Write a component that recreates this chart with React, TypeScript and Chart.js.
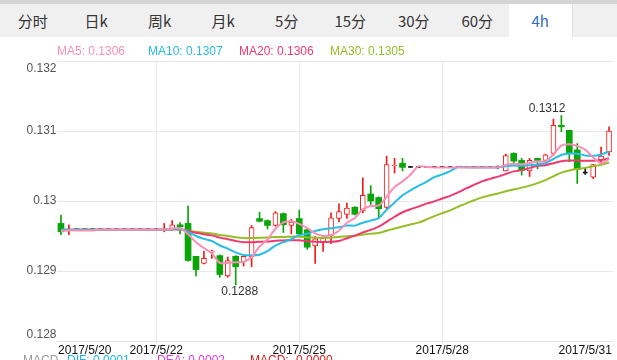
import { useEffect, useRef } from 'react';
import { Chart, registerables } from 'chart.js';

Chart.register(...registerables);

// ---- candle data (4h) ----
const opens = [
  0.12968, 0.12958, 0.12959, 0.12959, 0.12959, 0.12959, 0.12959, 0.12959, 0.12959, 0.12959,
  0.12959, 0.12959, 0.12959, 0.12958, 0.12961, 0.12966, 0.12968, 0.12921, 0.12911, 0.12927,
  0.12922, 0.12893, 0.12921, 0.12913, 0.12920, 0.12975, 0.12972, 0.12965, 0.12982, 0.12965,
  0.12975, 0.12959, 0.12936, 0.12941, 0.12951, 0.12975, 0.12981, 0.12991, 0.12986, 0.13010,
  0.13005, 0.12991, 0.13050, 0.13054, 0.13048, 0.13048, 0.13048, 0.13048, 0.13048, 0.13048,
  0.13048, 0.13048, 0.13048, 0.13048, 0.13048, 0.13048, 0.13043, 0.13068, 0.13058, 0.13043,
  0.13061, 0.13058, 0.13068, 0.13108, 0.13101, 0.13073, 0.13040, 0.13034, 0.13059, 0.13070,
];
const highs = [
  0.12980, 0.12966, 0.12959, 0.12959, 0.12959, 0.12959, 0.12959, 0.12959, 0.12959, 0.12959,
  0.12959, 0.12959, 0.12959, 0.12968, 0.12972, 0.12969, 0.12993, 0.12921, 0.12928, 0.12930,
  0.12923, 0.12920, 0.12922, 0.12922, 0.12965, 0.12984, 0.12973, 0.12985, 0.12983, 0.12974,
  0.12987, 0.12961, 0.12949, 0.12949, 0.12983, 0.12996, 0.12997, 0.12992, 0.13033, 0.13022,
  0.13006, 0.13064, 0.13061, 0.13061, 0.13048, 0.13048, 0.13048, 0.13048, 0.13048, 0.13048,
  0.13048, 0.13048, 0.13048, 0.13048, 0.13048, 0.13050, 0.13067, 0.13069, 0.13061, 0.13061,
  0.13061, 0.13067, 0.13117, 0.13122, 0.13101, 0.13082, 0.13047, 0.13052, 0.13077, 0.13106,
];
const lows = [
  0.12952, 0.12952, 0.12959, 0.12959, 0.12959, 0.12959, 0.12959, 0.12959, 0.12959, 0.12959,
  0.12959, 0.12959, 0.12959, 0.12956, 0.12961, 0.12953, 0.12914, 0.12893, 0.12910, 0.12918,
  0.12891, 0.12891, 0.12880, 0.12907, 0.12906, 0.12970, 0.12960, 0.12964, 0.12955, 0.12953,
  0.12950, 0.12931, 0.12911, 0.12928, 0.12939, 0.12970, 0.12975, 0.12980, 0.12983, 0.12995,
  0.12976, 0.12989, 0.13040, 0.13043, 0.13048, 0.13048, 0.13048, 0.13048, 0.13048, 0.13048,
  0.13048, 0.13048, 0.13048, 0.13048, 0.13048, 0.13046, 0.13043, 0.13053, 0.13037, 0.13035,
  0.13046, 0.13053, 0.13065, 0.13099, 0.13056, 0.13025, 0.13038, 0.13032, 0.13053, 0.13065,
];
const closes = [
  0.12956, 0.12959, 0.12959, 0.12959, 0.12959, 0.12959, 0.12959, 0.12959, 0.12959, 0.12959,
  0.12959, 0.12959, 0.12959, 0.12959, 0.12966, 0.12963, 0.12915, 0.12902, 0.12918, 0.12928,
  0.12895, 0.12915, 0.12906, 0.12921, 0.12962, 0.12971, 0.12965, 0.12983, 0.12966, 0.12970,
  0.12953, 0.12934, 0.12946, 0.12947, 0.12976, 0.12985, 0.12990, 0.12981, 0.13008, 0.13000,
  0.12989, 0.13052, 0.13051, 0.13048, 0.13048, 0.13048, 0.13048, 0.13048, 0.13048, 0.13048,
  0.13048, 0.13048, 0.13048, 0.13048, 0.13048, 0.13048, 0.13065, 0.13057, 0.13044, 0.13058,
  0.13058, 0.13066, 0.13108, 0.13106, 0.13068, 0.13045, 0.13040, 0.13052, 0.13064, 0.13100,
];

// ---- moving averages ----
const ma5 = [
  0.12957, 0.12958, 0.12958, 0.12958, 0.12958, 0.12959, 0.12959, 0.12959, 0.12959, 0.12959,
  0.12959, 0.12959, 0.12959, 0.12959, 0.129604, 0.129612, 0.129524, 0.12941, 0.129328, 0.129252,
  0.129116, 0.129116, 0.129124, 0.12913, 0.129198, 0.12935, 0.12945, 0.129604, 0.129694, 0.12971,
  0.129674, 0.129612, 0.129538, 0.1295, 0.129512, 0.129576, 0.129688, 0.129758, 0.12988, 0.129928,
  0.129936, 0.13006, 0.1302, 0.13028, 0.130376, 0.130494, 0.130486, 0.13048, 0.13048, 0.13048,
  0.13048, 0.13048, 0.13048, 0.13048, 0.13048, 0.13048, 0.130514, 0.130532, 0.130524, 0.130544,
  0.130564, 0.130566, 0.130668, 0.130792, 0.130812, 0.130786, 0.130734, 0.130622, 0.130538, 0.130602,
];
const ma10 = [
  0.12959, 0.12959, 0.12959, 0.12959, 0.12959, 0.12959, 0.12959, 0.12959, 0.12959, 0.12959,
  0.12959, 0.12959, 0.12959, 0.12959, 0.129597, 0.129601, 0.129557, 0.1295, 0.129459, 0.129428,
  0.129364, 0.12932, 0.129267, 0.129229, 0.129225, 0.129233, 0.129283, 0.129364, 0.129412, 0.129454,
  0.129512, 0.129531, 0.129571, 0.129597, 0.129611, 0.129625, 0.12965, 0.129648, 0.12969, 0.12972,
  0.129756, 0.129874, 0.129979, 0.13008, 0.130152, 0.130215, 0.130273, 0.13034, 0.13038, 0.130428,
  0.130487, 0.130483, 0.13048, 0.13048, 0.13048, 0.13048, 0.130497, 0.130506, 0.130502, 0.130512,
  0.130522, 0.13054, 0.1306, 0.130658, 0.130678, 0.130675, 0.13065, 0.130645, 0.130665, 0.130707,
];
const ma20 = [
  0.12959, 0.12959, 0.12959, 0.12959, 0.12959, 0.12959, 0.12959, 0.12959, 0.12959, 0.12959,
  0.12959, 0.12959, 0.12959, 0.12959, 0.129594, 0.129596, 0.129574, 0.129545, 0.129525, 0.129509,
  0.129477, 0.129455, 0.129429, 0.12941, 0.129411, 0.129417, 0.12942, 0.129432, 0.129436, 0.129441,
  0.129438, 0.129426, 0.129419, 0.129413, 0.129418, 0.129429, 0.129467, 0.129506, 0.129551, 0.129587,
  0.129634, 0.129703, 0.129775, 0.129839, 0.129882, 0.12992, 0.129962, 0.129994, 0.130035, 0.130074,
  0.130122, 0.130179, 0.13023, 0.13028, 0.130316, 0.130348, 0.130385, 0.130423, 0.130441, 0.13047,
  0.130505, 0.130512, 0.13054, 0.130569, 0.130579, 0.130578, 0.130574, 0.130576, 0.130584, 0.13061,
];
const ma30 = [
  0.12959, 0.12959, 0.12959, 0.12959, 0.12959, 0.12959, 0.12959, 0.12959, 0.12959, 0.12959,
  0.12959, 0.12959, 0.12959, 0.12959, 0.129592, 0.129594, 0.129579, 0.12956, 0.129546, 0.129536,
  0.129515, 0.1295, 0.129482, 0.12947, 0.129471, 0.129475, 0.129477, 0.129485, 0.129487, 0.129491,
  0.129489, 0.12948, 0.129476, 0.129472, 0.129478, 0.129486, 0.129497, 0.129504, 0.12952, 0.129534,
  0.129544, 0.129575, 0.129606, 0.129635, 0.129663, 0.129691, 0.129735, 0.129784, 0.129827, 0.129867,
  0.129918, 0.129963, 0.13001, 0.130052, 0.130081, 0.130107, 0.13014, 0.130165, 0.130191, 0.13022,
  0.130255, 0.130299, 0.130353, 0.130406, 0.130437, 0.130457, 0.130473, 0.130497, 0.130516, 0.130549,
];

const maNames = ['MA5', 'MA10', 'MA20', 'MA30'];
const maColors = ['#f98fb6', '#27bde6', '#ee3a6e', '#96bd26'];

// ---- axes ----
const yMin = 0.128;
const yMax = 0.132;
const yStep = 0.001;
const xTickLabels = ['2017/5/20', '2017/5/22', '2017/5/25', '2017/5/28', '2017/5/31'];
const xTickAt = [3, 12, 30, 48, 66];
const xGridAt = [12, 30, 48];

// ---- tabs & MACD header ----
const tabs = ['分时', '日k', '周k', '月k', '5分', '15分', '30分', '60分', '4h'];
const activeTab = '4h';
const macdDif = 0.0001;
const macdDea = 0.0002;
const macdHist = -0.00001;

const RED = '#f01c1c';
const GREEN = '#0aa50a';
const FLAT = '#111111';
const FONT = '"Liberation Sans", Arial, sans-serif';

const categories = closes.map((_, i) => {
  const k = xTickAt.indexOf(i);
  return k >= 0 ? xTickLabels[k] : '';
});

const textPlugin = {
  id: 'textPlugin',
  afterDraw(chart: any) {
    const { ctx, chartArea, scales } = chart;
    const xs = scales.x;
    const ys = scales.y;
    ctx.save();
    ctx.font = `12px ${FONT}`;

    // legend
    const mas = [ma5, ma10, ma20, ma30];
    ctx.textAlign = 'left';
    ctx.textBaseline = 'middle';
    mas.forEach((arr, k) => {
      ctx.fillStyle = maColors[k];
      ctx.fillText(`${maNames[k]}: ${arr[arr.length - 1].toFixed(4)}`, chartArea.left + k * 91, chartArea.top - 9);
    });

    // y labels
    ctx.fillStyle = '#555';
    ctx.textAlign = 'right';
    ys.ticks.forEach((t: any) => {
      const py = ys.getPixelForValue(t.value);
      const y = Math.min(Math.max(py, chartArea.top + 7.5), chartArea.bottom - 6);
      ctx.fillText(String(Number(t.value.toFixed(3))), chartArea.left - 0.5, y);
    });

    // x labels
    ctx.fillStyle = '#111';
    ctx.textAlign = 'center';
    ctx.textBaseline = 'alphabetic';
    xTickAt.forEach((idx, k) => {
      ctx.fillText(xTickLabels[k], xs.getPixelForValue(idx), chartArea.bottom + 13);
    });

    // min / max marks
    let hi = 0;
    let lo = 0;
    highs.forEach((v, i) => { if (v > highs[hi]) hi = i; });
    lows.forEach((v, i) => { if (v < lows[lo]) lo = i; });
    ctx.fillStyle = '#333';
    ctx.textBaseline = 'middle';
    ctx.textAlign = 'right';
    ctx.fillText(highs[hi].toFixed(4), xs.getPixelForValue(hi) + 4, ys.getPixelForValue(highs[hi]) - 7);
    ctx.textAlign = 'center';
    ctx.fillText(lows[lo].toFixed(4), xs.getPixelForValue(lo) + 4, ys.getPixelForValue(lows[lo]) + 7);

    // MACD header (cut by the bottom edge)
    ctx.textAlign = 'left';
    ctx.textBaseline = 'alphabetic';
    const by = chartArea.bottom + 23;
    ctx.fillStyle = '#999';
    ctx.fillText('MACD', 23, by);
    ctx.fillStyle = '#1bb8e8';
    ctx.fillText(`DIF: ${macdDif.toFixed(4)}`, 67, by);
    ctx.fillStyle = '#e03ce0';
    ctx.fillText(`DEA: ${macdDea.toFixed(4)}`, 157, by);
    ctx.fillStyle = '#e01818';
    ctx.fillText(`MACD: ${macdHist.toFixed(4)}`, 250, by);
    ctx.restore();
  },
};

export default function App() {
  const ref = useRef<HTMLCanvasElement>(null);

  useEffect(() => {
    const canvas = ref.current;
    if (!canvas) return;
    const up = closes.map((c, i) => (c > opens[i] ? [opens[i], c] : null));
    const down = closes.map((c, i) => (c < opens[i] ? [opens[i], c] : null));
    const flat = closes.map((c, i) => (c === opens[i] ? [opens[i], c] : null));
    const wicks = closes.map((_, i) => [lows[i], highs[i]]);
    const wickColors = closes.map((c, i) => (c > opens[i] ? RED : c < opens[i] ? GREEN : FLAT));
    const mas = [ma5, ma10, ma20, ma30];

    const chart = new Chart(canvas, {
      type: 'bar',
      data: {
        labels: categories,
        datasets: [
          ...mas.map((arr, k) => ({
            type: 'line' as const,
            label: maNames[k],
            data: arr,
            borderColor: maColors[k],
            borderWidth: 2,
            pointRadius: 0,
            tension: 0.3,
            fill: false,
            order: 0,
          })),
          {
            type: 'bar' as const,
            label: 'up',
            data: up as any,
            backgroundColor: '#ffffff',
            borderColor: RED,
            borderWidth: 1,
            borderSkipped: false,
            barThickness: 5,
            minBarLength: 1,
            grouped: false,
            order: 1,
          },
          {
            type: 'bar' as const,
            label: 'down',
            data: down as any,
            backgroundColor: GREEN,
            borderWidth: 0,
            barThickness: 6,
            minBarLength: 1,
            grouped: false,
            order: 1,
          },
          {
            type: 'bar' as const,
            label: 'flat',
            data: flat as any,
            backgroundColor: FLAT,
            borderWidth: 0,
            barThickness: 4,
            minBarLength: 1,
            grouped: false,
            order: 1,
          },
          {
            type: 'bar' as const,
            label: 'wick',
            data: wicks as any,
            backgroundColor: wickColors,
            borderWidth: 0,
            barThickness: 1,
            grouped: false,
            order: 2,
          },
        ],
      },
      options: {
        responsive: false,
        maintainAspectRatio: false,
        animation: false,
        devicePixelRatio: 1,
        events: [],
        layout: { padding: { left: 57, top: 61, right: 4, bottom: 19 } },
        plugins: { legend: { display: false }, tooltip: { enabled: false } },
        scales: {
          x: {
            type: 'category',
            offset: true,
            ticks: { display: false, autoSkip: false },
            grid: {
              offset: false,
              drawTicks: false,
              color: (ctx: any) => (xGridAt.includes(ctx.tick?.value) ? '#e8e8e8' : 'rgba(0,0,0,0)'),
            },
            border: { display: true, color: '#e3e3e3' },
          },
          y: {
            type: 'linear',
            min: yMin,
            max: yMax,
            ticks: { display: false, stepSize: yStep },
            grid: { drawTicks: false, color: '#e8e8e8' },
            border: { display: false },
          },
        },
      },
      plugins: [textPlugin],
    });
    return () => chart.destroy();
  }, []);

  return (
    <div style={{ position: 'absolute', left: 0, top: 0, width: 617, height: 360, background: '#fff', overflow: 'hidden' }}>
      <canvas ref={ref} width={617} height={360} style={{ position: 'absolute', left: 0, top: 0, width: 617, height: 360 }} />
      <div
        style={{
          position: 'absolute', left: 0, top: 0, width: 617, height: 37, boxSizing: 'border-box',
          background: '#f0f0f0', borderTop: '4px solid #d4d4d4', display: 'flex', paddingLeft: 1,
        }}
      >
        {tabs.map((t) => (
          <div
            key={t}
            style={{
              width: 63.5, height: 33, lineHeight: '33px', textAlign: 'center',
              fontFamily: '"Noto Sans CJK SC", "Noto Sans", sans-serif', fontSize: 15,
              color: t === activeTab ? '#2f6cc2' : '#333',
              background: t === activeTab ? '#ffffff' : 'transparent',
              borderRight: t === activeTab ? '1px solid #e2e2e2' : 'none',
              boxSizing: 'border-box',
            }}
          >
            {t}
          </div>
        ))}
      </div>
    </div>
  );
}
